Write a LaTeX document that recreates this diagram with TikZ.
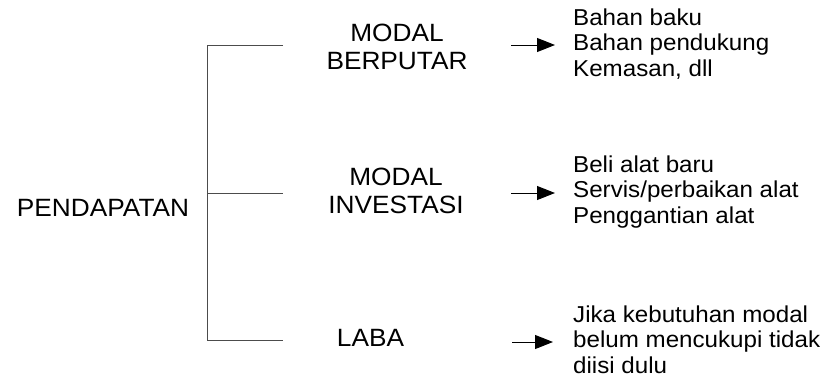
\documentclass[tikz,border=0pt]{standalone}
\usepackage{fontspec}
\setmainfont{Liberation Sans}[FakeStretch=1.05]
\usetikzlibrary{arrows.meta}
\tikzset{
  lbl/.style={inner sep=0pt, anchor=north, align=center, font={\fontsize{25}{28}\selectfont}},
  itemtxt/.style={inner sep=0pt, anchor=north west, align=left, font={\fontsize{23}{25.5}\selectfont}},
  brk/.style={draw=black!70, line width=0.9pt},
  arr/.style={draw=black, line width=1pt, -{Triangle[length=18pt,width=14pt]}}
}
\begin{document}
\begin{tikzpicture}[x=1pt,y=-1pt]
\useasboundingbox (0,0) rectangle (823,381);
% labels
\node[lbl] (pend) at (103,199) {PENDAPATAN};
\node[lbl] (mb) at (397,24) {MODAL\\BERPUTAR};
\node[lbl] (mi) at (396,168) {MODAL\\INVESTASI};
\node[lbl] (laba) at (370.5,329) {LABA};
% item lists
\node[itemtxt] (l1) at (573,8.5) {Bahan baku\\Bahan pendukung\\Kemasan, dll};
\node[itemtxt] (l2) at (573,155.5) {Beli alat baru\\Servis/perbaikan alat\\Penggantian alat};
\node[itemtxt] (l3) at (573,305.5) {Jika kebutuhan modal\\belum mencukupi tidak\\diisi dulu};
% bracket
\coordinate (bt) at (207,45);
\coordinate (bm) at (207,193);
\coordinate (bb) at (207,340);
\coordinate (et) at (283,45);
\coordinate (em) at (283,193);
\coordinate (eb) at (283,340);
\draw[brk] (et) -- (bt) -- (bb) -- (eb);
\draw[brk] (bm) -- (em);
% arrows
\coordinate (a1s) at (511,45);  \coordinate (a1e) at (555,45);
\coordinate (a2s) at (511,193); \coordinate (a2e) at (555,193);
\coordinate (a3s) at (512,342); \coordinate (a3e) at (553,342);
\draw[arr] (a1s) -- (a1e);
\draw[arr] (a2s) -- (a2e);
\draw[arr] (a3s) -- (a3e);
\end{tikzpicture}
\end{document}
